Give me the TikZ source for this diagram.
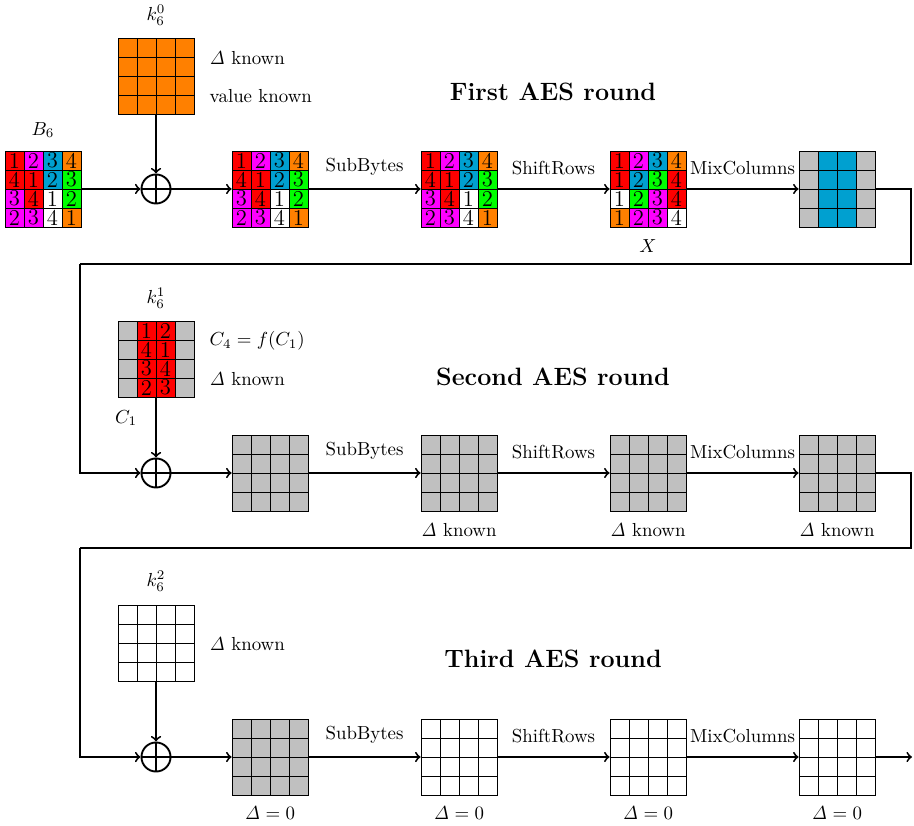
\documentclass[tikz,border=0pt]{standalone}
\usetikzlibrary{calc}
\definecolor{cred}{RGB}{255,0,0}
\definecolor{cmag}{RGB}{255,0,255}
\definecolor{cblu}{RGB}{0,160,208}
\definecolor{cgrn}{RGB}{0,255,0}
\definecolor{corg}{RGB}{255,128,0}
\definecolor{cgry}{RGB}{192,192,192}
\tikzset{
  cellbox/.style={draw=black,line width=0.5pt},
  cellnum/.style={inner sep=0pt,font=\large},
  gridbox/.style={draw=none,inner sep=0pt,minimum width=40.28pt,minimum height=40.28pt},
  conn/.style={line width=1pt,->},
  lbl/.style={font=\normalsize},
  ttl/.style={font=\fontsize{13.3}{16}\selectfont\bfseries},
  xorc/.style={circle,draw,line width=1pt,minimum size=15.4pt,inner sep=0pt,
    path picture={\draw[line width=1pt] (path picture bounding box.north)--(path picture bounding box.south)
      (path picture bounding box.west)--(path picture bounding box.east);}},
}
\newcommand{\drawgrid}[4]{%
  \foreach \cf/\ct [count=\i from 0] in #4 {%
    \pgfmathtruncatemacro\cc{mod(\i,4)}%
    \pgfmathtruncatemacro\rr{\i/4}%
    \filldraw[cellbox,fill=\cf] ({#2+19*\cc},{#3+19*\rr}) rectangle ++(19,19);
    \node[cellnum] at ({#2+19*\cc+9.5},{#3+19*\rr+9.5}) {\ct};
  }
  \node[gridbox] (#1) at ({#2+38},{#3+38}) {};
}
\def\listB{cred/1,cmag/2,cblu/3,corg/4,cred/4,cred/1,cblu/2,cgrn/3,cmag/3,cred/4,white/1,cgrn/2,cmag/2,cmag/3,white/4,corg/1}
\def\listX{cred/1,cmag/2,cblu/3,corg/4,cred/1,cblu/2,cgrn/3,cred/4,white/1,cgrn/2,cmag/3,cred/4,corg/1,cmag/2,cmag/3,white/4}
\def\listMC{cgry/{},cblu/{},cblu/{},cgry/{},cgry/{},cblu/{},cblu/{},cgry/{},cgry/{},cblu/{},cblu/{},cgry/{},cgry/{},cblu/{},cblu/{},cgry/{}}
\def\listKone{cgry/{},cred/1,cred/2,cgry/{},cgry/{},cred/4,cred/1,cgry/{},cgry/{},cred/3,cred/4,cgry/{},cgry/{},cred/2,cred/3,cgry/{}}
\def\listO{corg/{},corg/{},corg/{},corg/{},corg/{},corg/{},corg/{},corg/{},corg/{},corg/{},corg/{},corg/{},corg/{},corg/{},corg/{},corg/{}}
\def\listG{cgry/{},cgry/{},cgry/{},cgry/{},cgry/{},cgry/{},cgry/{},cgry/{},cgry/{},cgry/{},cgry/{},cgry/{},cgry/{},cgry/{},cgry/{},cgry/{}}
\def\listW{white/{},white/{},white/{},white/{},white/{},white/{},white/{},white/{},white/{},white/{},white/{},white/{},white/{},white/{},white/{},white/{}}
\begin{document}
\begin{tikzpicture}[x=0.53pt,y=-0.53pt]
\useasboundingbox (0,0) rectangle (914,826);
% ---------- Row 1 ----------
\drawgrid{k0}{118}{38}{\listO}
\drawgrid{b6}{5}{151}{\listB}
\drawgrid{g12}{232}{151}{\listB}
\drawgrid{g13}{421}{151}{\listB}
\drawgrid{g14}{610}{151}{\listX}
\drawgrid{g15}{799}{151}{\listMC}
\node[xorc] (x1) at (156,189) {};
\node[lbl] (k0l) at (156,15) {$k_6^0$};
\node[lbl] (b6l) at (43,130) {$B_6$};
\node[lbl,anchor=west] (k0a) at (203,58) {$\mathit{\Delta}$ known};
\node[lbl,anchor=west] (k0b) at (203,96) {value known};
\node[ttl] (t1) at (553,92) {First AES round};
\node[lbl] (xl) at (648,246) {$X$};
\draw[conn] (b6.east) -- (x1.west);
\draw[conn] (k0.south) -- (x1.north);
\draw[conn] (x1.east) -- (g12.west);
\draw[conn] (g12.east) -- node[lbl,above=3.5pt] {SubBytes} (g13.west);
\draw[conn] (g13.east) -- node[lbl,above=3.5pt] {ShiftRows} (g14.west);
\draw[conn] (g14.east) -- node[lbl,above=3.5pt] {MixColumns} (g15.west);
\coordinate (c1) at (911,264);
\coordinate (c2) at (80,264);
% ---------- Row 2 ----------
\drawgrid{k1}{118}{321}{\listKone}
\drawgrid{g22}{232}{435}{\listG}
\drawgrid{g23}{421}{435}{\listG}
\drawgrid{g24}{610}{435}{\listG}
\drawgrid{g25}{799}{435}{\listG}
\node[xorc] (x2) at (156,473) {};
\node[lbl] (k1l) at (156,298) {$k_6^1$};
\node[lbl,anchor=west] (k1a) at (203,341) {$C_4=f(C_1)$};
\node[lbl,anchor=west] (k1b) at (203,379) {$\mathit{\Delta}$ known};
\node[lbl] (c1l) at (126,418) {$C_1$};
\node[ttl] (t2) at (553,377) {Second AES round};
\node[lbl] (d23) at (459,530) {$\mathit{\Delta}$ known};
\node[lbl] (d24) at (648,530) {$\mathit{\Delta}$ known};
\node[lbl] (d25) at (837,530) {$\mathit{\Delta}$ known};
\draw[line width=1pt] (g15.east) -| (c1) -- (c2);
\draw[conn] (c2) |- (x2.west);
\draw[conn] (k1.south) -- (x2.north);
\draw[conn] (x2.east) -- (g22.west);
\draw[conn] (g22.east) -- node[lbl,above=3.5pt] {SubBytes} (g23.west);
\draw[conn] (g23.east) -- node[lbl,above=3.5pt] {ShiftRows} (g24.west);
\draw[conn] (g24.east) -- node[lbl,above=3.5pt] {MixColumns} (g25.west);
\coordinate (c3) at (911,548);
\coordinate (c4) at (80,548);
% ---------- Row 3 ----------
\drawgrid{k2}{118}{605}{\listW}
\drawgrid{g32}{232}{719}{\listG}
\drawgrid{g33}{421}{719}{\listW}
\drawgrid{g34}{610}{719}{\listW}
\drawgrid{g35}{799}{719}{\listW}
\node[xorc] (x3) at (156,757) {};
\node[lbl] (k2l) at (156,581) {$k_6^2$};
\node[lbl,anchor=west] (k2a) at (203,644) {$\mathit{\Delta}$ known};
\node[ttl] (t3) at (553,659) {Third AES round};
\node[lbl] (e32) at (270,813) {$\mathit{\Delta}=0$};
\node[lbl] (e33) at (459,813) {$\mathit{\Delta}=0$};
\node[lbl] (e34) at (648,813) {$\mathit{\Delta}=0$};
\node[lbl] (e35) at (837,813) {$\mathit{\Delta}=0$};
\draw[line width=1pt] (g25.east) -| (c3) -- (c4);
\draw[conn] (c4) |- (x3.west);
\draw[conn] (k2.south) -- (x3.north);
\draw[conn] (x3.east) -- (g32.west);
\draw[conn] (g32.east) -- node[lbl,above=3.5pt] {SubBytes} (g33.west);
\draw[conn] (g33.east) -- node[lbl,above=3.5pt] {ShiftRows} (g34.west);
\draw[conn] (g34.east) -- node[lbl,above=3.5pt] {MixColumns} (g35.west);
\coordinate (c5) at (912,757);
\draw[conn] (g35.east) -- (c5);
\end{tikzpicture}
\end{document}
